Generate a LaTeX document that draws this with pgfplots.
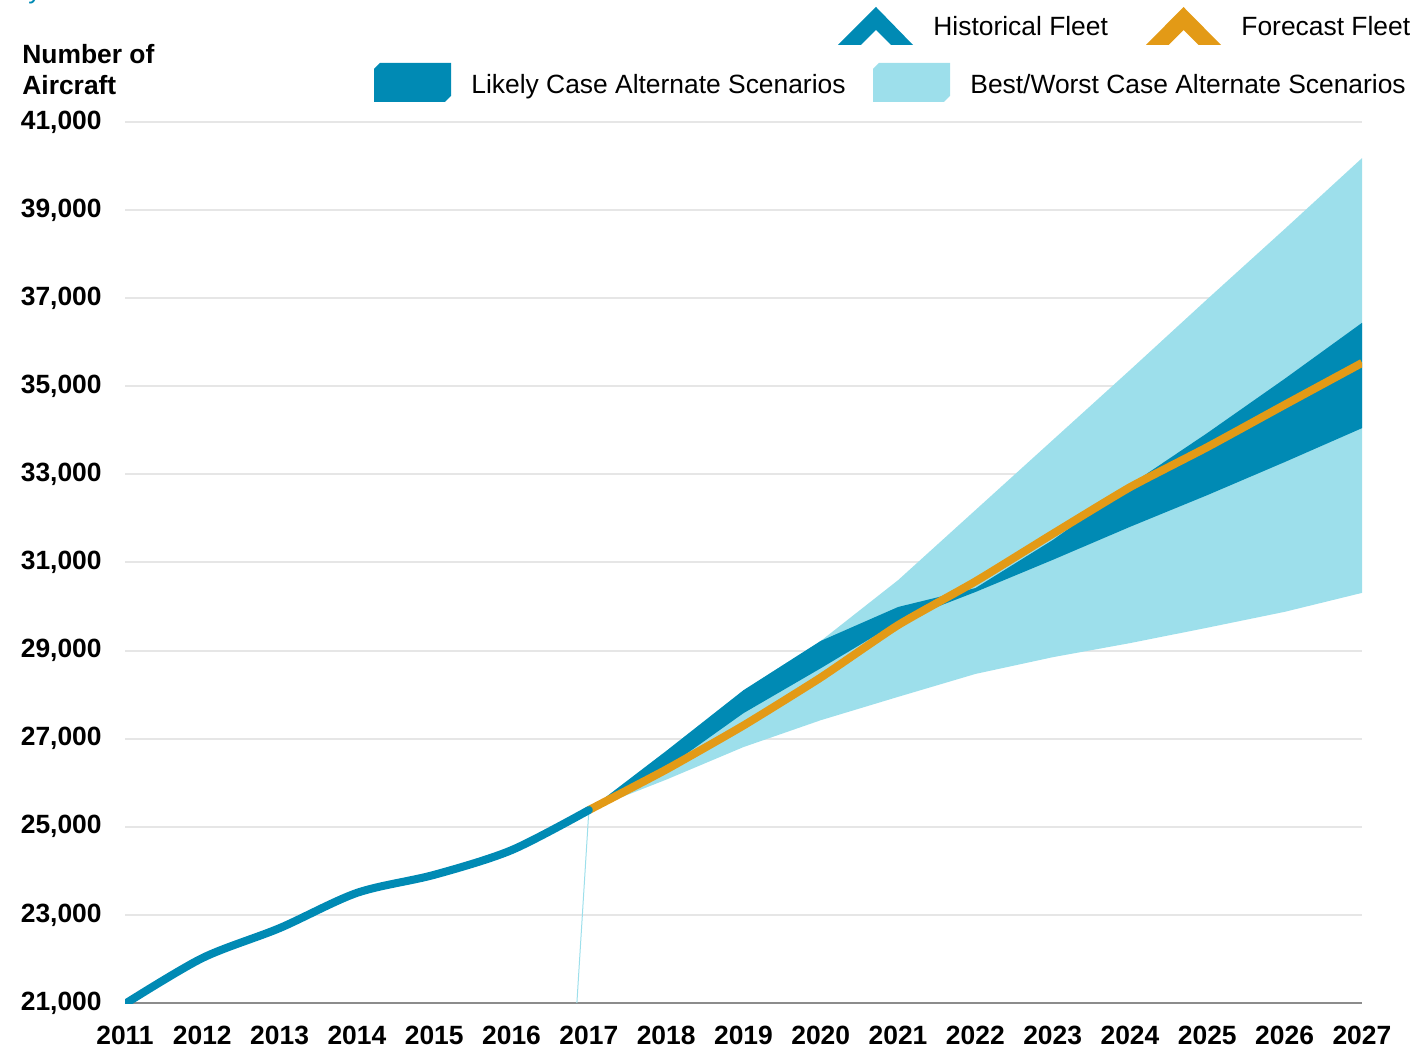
\documentclass[border=0pt]{standalone}
\usepackage{pgfplots}
\pgfplotsset{compat=1.18}
\usepackage{fontspec}
\setmainfont{Liberation Sans}
\definecolor{dkb}{RGB}{0,138,180}
\definecolor{ltb}{RGB}{157,223,235}
\definecolor{orb}{RGB}{227,154,22}
\definecolor{gridgray}{RGB}{230,230,230}
\definecolor{axgray}{RGB}{140,140,140}
\newcommand{\fs}{\fontsize{13.2bp}{15.8bp}\selectfont}
\begin{document}
\begin{tikzpicture}
\path[use as bounding box] (-62.5bp,-23.5bp) rectangle (646bp,501.5bp);
\begin{axis}[
  at={(0,0)}, anchor=south west,
  scale only axis, width=618.5bp, height=440.5bp,
  xmin=2011, xmax=2027, ymin=21000, ymax=41000,
  xtick={2011,2012,...,2027}, ytick={21000,23000,...,41000},
  scaled x ticks=false, scaled y ticks=false,
  axis x line*=bottom, axis y line*=left,
  y axis line style={draw=none},
  x axis line style={draw=axgray, line width=1bp},
  major tick length=0pt,
  ymajorgrids, grid style={draw=gridgray, line width=1bp},
  /pgf/number format/assume math mode=true,
  tick label style={font=\fs\bfseries},
  xticklabel style={/pgf/number format/1000 sep={}, inner sep=0pt, anchor=north, yshift=-11.5bp},
  yticklabel style={/pgf/number format/fixed, /pgf/number format/1000 sep={,}, inner sep=0pt, anchor=east, xshift=-11.5bp},
]
% Best/Worst case band
\addplot[draw=none, fill=ltb] coordinates {
 (2017,25380) (2018,26720) (2019,28100) (2020,29220) (2021,30600) (2022,32190)
 (2023,33780) (2024,35370) (2025,36980) (2026,38570) (2027,40180)
 (2027,30310) (2026,29880) (2025,29520) (2024,29170) (2023,28850) (2022,28470)
 (2021,27950) (2020,27420) (2019,26810) (2018,26070)} -- cycle;
% Likely case band
\addplot[draw=none, fill=dkb] coordinates {
 (2017,25380) (2018,26720) (2019,28100) (2020,29220) (2021,29990) (2022,30420)
 (2023,31510) (2024,32760) (2025,33940) (2026,35170) (2027,36440)
 (2027,34050) (2026,33280) (2025,32530) (2024,31810) (2023,31060) (2022,30330)
 (2021,29650) (2020,28600) (2019,27580) (2018,26330)} -- cycle;
% thin connector
\addplot[ltb, line width=0.5bp] coordinates {(2016.845,21000) (2017,25380)};
% Forecast fleet
\addplot[orb, line width=4bp, smooth, tension=0.3] coordinates {
 (2017,25380) (2018,26300) (2019,27300) (2020,28390) (2021,29580) (2022,30570)
 (2023,31650) (2024,32710) (2025,33620) (2026,34580) (2027,35530)};
% Historical fleet
\addplot[dkb, line width=4bp, smooth, line cap=round] coordinates {
 (2011,20980) (2012,22020) (2013,22700) (2014,23500) (2015,23910) (2016,24470) (2017,25380)};
\end{axis}
% stray title descender
\node[anchor=base west, inner sep=0, text=dkb, font=\fs] at (-48.5bp,502bp) {y};
% axis title
\node[anchor=base west, inner sep=0, font=\fs\bfseries] at (-51.5bp,469.5bp) {Number of};
\node[anchor=base west, inner sep=0, font=\fs\bfseries] at (-51.5bp,454bp) {Aircraft};
% legend
\fill[dkb] (356.5bp,479bp) -- (375.5bp,498bp) -- (394bp,479bp) -- (383bp,479bp) -- (375.5bp,486.5bp) -- (368bp,479bp) -- cycle;
\node[anchor=base west, inner sep=0, font=\fs] at (404bp,483.75bp) {Historical Fleet};
\fill[orb] (510.5bp,479bp) -- (529.25bp,498bp) -- (548bp,479bp) -- (536.75bp,479bp) -- (529.25bp,486.5bp) -- (521.75bp,479bp) -- cycle;
\node[anchor=base west, inner sep=0, font=\fs] at (558bp,483.75bp) {Forecast Fleet};
\fill[dkb] (124.5bp,450.5bp) -- (124.5bp,467bp) -- (127.5bp,470bp) -- (163bp,470bp) -- (163bp,453.5bp) -- (160bp,450.5bp) -- cycle;
\node[anchor=base west, inner sep=0, font=\fs] at (173bp,454.75bp) {Likely Case Alternate Scenarios};
\fill[ltb] (374bp,450.5bp) -- (374bp,467bp) -- (377bp,470bp) -- (412.5bp,470bp) -- (412.5bp,453.5bp) -- (409.5bp,450.5bp) -- cycle;
\node[anchor=base west, inner sep=0, font=\fs] at (422.5bp,454.75bp) {Best/Worst Case Alternate Scenarios};
\end{tikzpicture}
\end{document}
